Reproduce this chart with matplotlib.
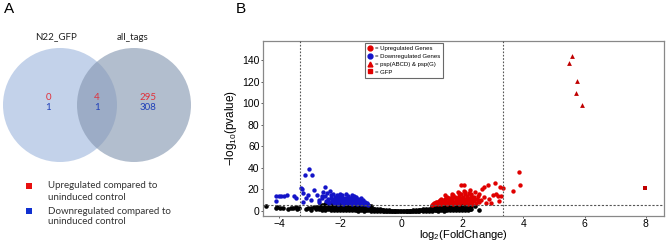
import matplotlib
matplotlib.use('Agg')
import matplotlib.pyplot as plt
from matplotlib.patches import Circle, Rectangle
from matplotlib.lines import Line2D

plt.rcParams['font.family'] = 'Liberation Sans'
plt.rcParams['mathtext.default'] = 'regular'

# ── Venn data ────────────────────────────────────────────────────────────────
venn_sets = ['N22_GFP', 'all_tags']
venn_up = [0, 4, 295]      # left only, shared, right only
venn_down = [1, 1, 308]

# ── Volcano data ─────────────────────────────────────────────────────────────
ns_x = [-4.42, -4.1, -4.05, -3.95, -3.85, -3.7, -3.6, -3.55, -3.45, -3.4, -3.35,
        -3.1, -3.05, -2.95, -2.85,
        -2.8, -2.8, -2.7, -2.7, -2.6, -2.6, -2.6, -2.5, -2.5, -2.5,
        -2.4, -2.4, -2.4, -2.3, -2.3, -2.3, -2.2, -2.2, -2.2, -2.1, -2.1, -2.1,
        -2.0, -2.0, -2.0, -2.0, -1.9, -1.9, -1.9, -1.8, -1.8, -1.8, -1.8,
        -1.7, -1.7, -1.7, -1.6, -1.6, -1.6, -1.6, -1.5, -1.5, -1.5,
        -1.4, -1.4, -1.4, -1.4, -1.3, -1.3, -1.3, -1.2, -1.2, -1.2, -1.2,
        -1.1, -1.1, -1.1, -1.0, -1.0, -1.0, -0.9, -0.9, -0.9, -0.8, -0.8, -0.8,
        -0.7, -0.7, -0.7, -0.6, -0.6, -0.6, -0.5, -0.5, -0.4, -0.4, -0.3, -0.3,
        -0.2, -0.2, -0.1, 0.0, 0.1, 0.2, 0.2, 0.3, 0.3, 0.4, 0.4, 0.5, 0.5,
        0.6, 0.6, 0.6, 0.7, 0.7, 0.7, 0.8, 0.8, 0.8, 0.9, 0.9, 0.9,
        1.0, 1.0, 1.0, 1.1, 1.1, 1.1, 1.2, 1.2, 1.2, 1.2, 1.3, 1.3, 1.3,
        1.4, 1.4, 1.4, 1.4, 1.5, 1.5, 1.5, 1.6, 1.6, 1.6, 1.6, 1.7, 1.7, 1.7,
        1.8, 1.8, 1.8, 1.8, 1.9, 1.9, 1.9, 2.0, 2.0, 2.0, 2.1, 2.1, 2.2, 2.2,
        2.3, 2.55,
        -2.95, -2.75, -2.65, -2.45, -2.35, -2.25, -2.15, -2.05, -1.95, -1.85,
        -1.75, -1.65, -1.55, -1.45, -1.35, -1.25, -1.15, -1.05, -0.95, -0.85,
        -0.75, -0.65, -0.55, -0.45, -0.35, -0.25, -0.15, -0.05, 0.05, 0.15, 0.25,
        0.35, 0.45, 0.55, 0.65, 0.75, 0.85, 0.95, 1.05, 1.15, 1.25, 1.35, 1.45,
        1.55, 1.65, 1.75, 1.85, 1.95, 2.05, 2.15, 2.25,
        -2.6, -2.5, -2.4, -2.3, -2.2, -2.1, -2.0, -1.9, -1.8, -1.7, -1.6, -1.5,
        -1.4, -1.3, -1.2, -1.1, -1.0, 1.0, 1.1, 1.2, 1.3, 1.4, 1.5, 1.6, 1.7,
        1.8, 1.9, 2.0, 2.1, 2.2, 2.3, 2.4]
ns_y = [4.4, 2.5, 3.8, 2.8, 3.2, 2.2, 3.0, 2.4, 3.5, 2.0, 2.6,
        1.8, 3.2, 2.4, 4.0,
        1.5, 4.2, 2.0, 4.5, 1.2, 3.5, 5.0, 1.0, 3.0, 5.2,
        1.5, 3.8, 5.0, 0.8, 2.5, 4.5, 1.2, 3.2, 5.2, 0.9, 2.6, 4.6,
        0.7, 2.2, 4.0, 5.3, 1.0, 2.8, 4.8, 0.6, 2.0, 3.6, 5.0,
        0.9, 2.5, 4.4, 0.5, 1.8, 3.3, 4.8, 0.7, 2.2, 4.0,
        0.4, 1.6, 3.2, 4.4, 0.6, 2.0, 3.6, 0.3, 1.4, 2.8, 3.8,
        0.5, 1.8, 3.2, 0.3, 1.3, 2.6, 0.4, 1.5, 2.3, 0.2, 1.0, 1.9,
        0.3, 1.2, 1.5, 0.2, 0.8, 1.2, 0.1, 0.7, 0.2, 0.5, 0.1, 0.3,
        0.1, 0.2, 0.0, 0.0, 0.0, 0.1, 0.2, 0.1, 0.3, 0.2, 0.5, 0.1, 0.7,
        0.2, 0.8, 1.1, 0.3, 1.1, 1.5, 0.2, 1.0, 1.9, 0.4, 1.4, 2.3,
        0.3, 1.3, 2.6, 0.5, 1.7, 3.0, 0.3, 1.4, 2.8, 3.6, 0.6, 2.0, 3.5,
        0.4, 1.6, 3.0, 4.2, 0.7, 2.2, 3.8, 0.5, 1.8, 3.2, 4.6, 0.9, 2.4, 4.2,
        0.6, 2.0, 3.5, 4.8, 1.0, 2.6, 4.4, 0.8, 2.2, 3.8, 1.2, 3.0, 1.0, 2.5,
        1.5, 1.0,
        1.2, 3.0, 4.0, 2.5, 4.2, 2.0, 3.8, 1.5, 4.0, 2.8,
        1.6, 4.2, 2.6, 1.2, 2.8, 2.2, 1.0, 2.0, 0.8, 1.4,
        0.6, 1.0, 0.4, 0.3, 0.2, 0.1, 0.1, 0.0, 0.0, 0.1, 0.1,
        0.2, 0.3, 0.4, 0.6, 0.8, 1.4, 0.9, 2.0, 1.0, 2.2, 2.8, 1.2,
        2.6, 3.5, 1.6, 2.8, 3.2, 1.6, 2.2, 2.0,
        6.0, 6.8, 6.2, 7.0, 6.5, 7.2, 6.8, 7.4, 6.6, 7.0, 6.4, 6.8,
        6.0, 6.2, 5.6, 5.2, 4.6, 4.4, 5.0, 5.4, 5.8, 6.0, 6.3, 6.5, 6.8,
        6.6, 7.0, 6.5, 6.2, 5.8, 5.0, 4.5]

down_x = [-4.08, -4.0, -3.92, -3.83, -3.72, -4.1, -3.52, -3.45,
          -3.25, -3.27, -3.22, -3.15, -3.0, -2.92, -3.1, -3.05, -2.85, -3.2, -2.95,
          -2.75, -2.7, -2.68, -2.6, -2.55, -2.5, -2.48, -2.42, -2.4, -2.38, -2.33,
          -2.3, -2.28, -2.25, -2.22, -2.2, -2.17, -2.15, -2.12, -2.1, -2.07, -2.05,
          -2.02, -2.0, -1.97, -1.95, -1.92, -1.9, -1.88, -1.85, -1.82, -1.8, -1.77,
          -1.75, -1.72, -1.7, -1.67, -1.65, -1.62, -1.6, -1.58, -1.55, -1.52, -1.5,
          -1.47, -1.45, -1.42, -1.4, -1.37, -1.35, -1.32, -1.3, -1.27, -1.25, -1.22,
          -1.2, -1.17, -1.15, -1.12, -1.1,
          -2.35, -2.25, -2.15, -2.05, -1.95, -1.85, -1.75, -1.65, -1.55, -1.45,
          -1.35, -1.25, -2.45, -2.6, -2.0, -1.8, -1.6]
down_y = [14, 14, 14, 14, 14.5, 9.5, 13.5, 12.5,
          20, 21.5, 17, 33, 39, 33.5, 12, 14.5, 19.5, 8.5, 10,
          15, 10.5, 8, 12, 18, 22, 14, 17, 11, 8.5, 19,
          14.5, 12, 9.5, 16, 7, 13, 10.5, 8, 15, 12, 6.5,
          9.5, 13.5, 11, 8, 14.5, 6.5, 10, 12.5, 8.5, 11, 7,
          14, 9.5, 12, 7.5, 10.5, 13, 6.5, 9, 11.5, 7.5, 10,
          13, 6.5, 8.5, 11, 7, 9.5, 12.5, 6.5, 8, 10, 7,
          6.5, 8.5, 6.2, 7.5, 6,
          7.5, 11, 9, 11, 12, 9.5, 11.5, 8.5, 13.5, 9.5,
          8, 8.5, 9.5, 14, 16, 15.5, 14.5]

up_x = [1.0, 1.05, 1.1, 1.12, 1.15, 1.2, 1.22, 1.25, 1.3, 1.32, 1.35, 1.4, 1.42,
        1.45, 1.5, 1.52, 1.55, 1.58, 1.6, 1.62, 1.65, 1.7, 1.72, 1.75, 1.78, 1.8,
        1.82, 1.85, 1.88, 1.9, 1.92, 1.95, 1.97, 2.0, 2.02, 2.05, 2.08, 2.1, 2.12,
        2.15, 2.18, 2.2, 2.22, 2.25, 2.28, 2.3, 2.33, 2.36, 2.39, 2.42, 2.45, 2.5,
        2.53, 2.56, 2.61, 2.66, 2.72, 2.7, 2.78, 2.85, 2.89, 2.94, 3.08, 3.0, 3.1,
        3.16, 3.25, 3.32, 3.27, 1.96, 2.07, 2.55, 3.2,
        1.08, 1.18, 1.28, 1.38, 1.48, 1.58, 1.68, 1.78, 1.88, 1.98, 2.08, 2.18,
        2.28, 2.38, 2.48, 1.3, 1.5, 1.7, 1.9, 2.1, 2.3, 1.45, 1.65, 1.85, 2.05, 2.25,
        3.65, 3.84, 3.9]
up_y = [6, 6.5, 7, 6.2, 8, 6.5, 7.5, 9, 6.3, 8, 10, 7, 9,
        11, 6.5, 8.5, 10, 12, 7.5, 9.5, 11, 6.5, 8.5, 13, 10, 7,
        12, 9, 14, 6.5, 11, 8, 16, 10, 13, 7, 18, 11, 8.5,
        14, 6.5, 10, 16.5, 8, 16, 12, 6.5, 9, 13.4, 18, 7.2, 14,
        10, 16, 10.3, 20, 22.7, 13, 7.2, 24, 11, 7.2, 26, 15, 16,
        14.3, 22.7, 21, 14, 24, 24, 8, 9,
        7.5, 8.5, 10.5, 8.2, 12.5, 9, 14, 11.5, 9.5, 12, 8.8, 11.8,
        9.5, 10.5, 11.5, 11.5, 13, 15, 17, 15.5, 14.5, 14.5, 16, 17.5, 19, 19.5,
        19, 36, 24.3]

psp_x = [5.6, 5.49, 5.74, 5.73, 5.92]
psp_y = [144, 137.6, 120.6, 109.5, 98.3]
gfp_x = [7.99]
gfp_y = [21.6]

fc_cut = 3.32
p_cut = 5.6

RED = '#e00000'
BLUE = '#1414c8'

fig = plt.figure(figsize=(6.66, 2.42), dpi=100)

# ── Panel A: Venn ────────────────────────────────────────────────────────────
axv = fig.add_axes([0, 0, 230 / 666, 1])
axv.set_xlim(0, 230)
axv.set_ylim(242, 0)
axv.axis('off')
axv.add_patch(Circle((60, 105), 57, facecolor='#c3d2ea', edgecolor='none', zorder=1))
axv.add_patch(Circle((134, 105), 57, facecolor='#8496b0', alpha=0.62,
                     edgecolor='none', zorder=2))
vfont = dict(family='Lato', ha='center', va='center')
axv.text(56, 37, venn_sets[0], fontsize=7, color='#222222', **vfont)
axv.text(133, 37, venn_sets[1], fontsize=7, color='#222222', **vfont)
for xc, u, d in zip([48, 97, 148], venn_up, venn_down):
    axv.text(xc, 98, str(u), fontsize=7, color='#e0303a', **vfont)
    axv.text(xc, 108, str(d), fontsize=7, color='#2040b8', **vfont)
axv.add_patch(Rectangle((26, 183), 6, 6, facecolor='#e81010', edgecolor='none'))
axv.add_patch(Rectangle((26, 208), 6, 6, facecolor='#1030d0', edgecolor='none'))
for yy, txt in [(186, 'Upregulated compared to'), (197, 'uninduced control'),
                (211, 'Downregulated compared to'), (222, 'uninduced control')]:
    axv.text(48, yy, txt, fontsize=7, color='#333333', family='Lato', va='center')
fig.text(4 / 666, 1 - 9 / 242, 'A', fontsize=11, va='center', ha='left')
fig.text(236 / 666, 1 - 9 / 242, 'B', fontsize=11, va='center', ha='left')

# ── Panel B: Volcano ─────────────────────────────────────────────────────────
ax = fig.add_axes([263 / 666, 1 - 216 / 242, 401 / 666, 175 / 242])
ax.scatter(ns_x, ns_y, s=11, color='black', linewidths=0, zorder=3)
ax.scatter(down_x, down_y, s=10, color=BLUE, linewidths=0, zorder=3)
ax.scatter(up_x, up_y, s=10, color=RED, linewidths=0, zorder=3)
ax.scatter(psp_x, psp_y, s=12, marker='^', color='#c00000', linewidths=0, zorder=4)
ax.scatter(gfp_x, gfp_y, s=10, marker='s', color='#c00000', linewidths=0, zorder=4)

ax.axvline(-fc_cut, color='#555555', lw=0.8, ls=(0, (1.5, 1.5)), zorder=5)
ax.axvline(fc_cut, color='#555555', lw=0.8, ls=(0, (1.5, 1.5)), zorder=5)
ax.axhline(p_cut, color='#555555', lw=0.8, ls=(0, (2, 1.5)), zorder=5)

ax.set_xlim(-4.52, 8.6)
ax.set_ylim(-4.6, 157.6)
ax.set_xticks([-4, -2, 0, 2, 4, 6, 8])
ax.set_yticks([0, 20, 40, 60, 80, 100, 120, 140])
ax.tick_params(labelsize=7.5, length=1.5, width=0.6, color='#444444', pad=1)
ax.tick_params(axis='x', pad=0.5)
for sp in ax.spines.values():
    sp.set_color('#888888')
    sp.set_linewidth(0.9)
ax.set_xlabel('log$_2$(FoldChange)', fontsize=8)
ax.xaxis.set_label_coords(0.5, -0.11)
ax.xaxis.label.set_va('center')
ax.set_ylabel('$-$log$_{10}$(pvalue)', fontsize=8.5, labelpad=2)

handles = [
    Line2D([0], [0], marker='o', ls='none', color=RED, markersize=3.5, label='= Upregulated Genes'),
    Line2D([0], [0], marker='o', ls='none', color=BLUE, markersize=3.5, label='= Downregulated Genes'),
    Line2D([0], [0], marker='^', ls='none', color=RED, markersize=3.5, label='= psp(ABCD) & psp(G)'),
    Line2D([0], [0], marker='s', ls='none', color=RED, markersize=3.5, label='= GFP'),
]
leg = ax.legend(handles=handles, loc='upper left', bbox_to_anchor=(0.25, 1.0),
                fontsize=4.3, frameon=True, fancybox=False, handlelength=0.8,
                handletextpad=0.3, borderpad=0.5, labelspacing=0.45,
                borderaxespad=0.3)
leg.get_frame().set_edgecolor('#444444')
leg.get_frame().set_linewidth(0.8)

fig.savefig('out.png', dpi=100)
